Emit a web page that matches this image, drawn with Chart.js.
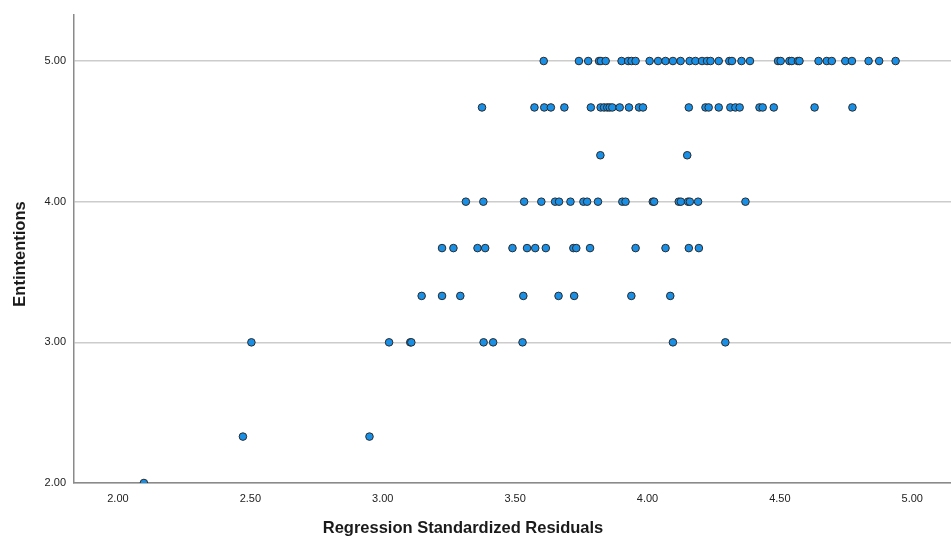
<!DOCTYPE html>
<html>
<head>
<meta charset="utf-8">
<script src="https://cdn.jsdelivr.net/npm/chart.js@4.4.1/dist/chart.umd.min.js"></script>
<style>
  html, body { margin: 0; padding: 0; background: #fff; overflow: hidden; }
  #wrap { width: 956px; height: 541px; }
</style>
</head>
<body>
<div id="wrap"><canvas id="scatter"></canvas></div>
<script>
// Entintentions levels (y) and the residuals found at each level (x)
let niveles = [2.00, 2.33, 3.00, 3.33, 3.67, 4.00, 4.33, 4.67, 5.00];

let res200 = [2.098];
let res233 = [2.472, 2.95];
let res300 = [2.504, 3.024, 3.104, 3.108, 3.381, 3.417, 3.528, 4.096, 4.294];
let res333 = [3.147, 3.224, 3.293, 3.531, 3.664, 3.723, 3.939, 4.086];
let res367 = [3.224, 3.267, 3.358, 3.387, 3.490, 3.545, 3.576, 3.616, 3.720, 3.731,
              3.783, 3.955, 4.068, 4.156, 4.194];
let res400 = [3.314, 3.380, 3.534, 3.599, 3.651, 3.666, 3.709, 3.758, 3.772, 3.813,
              3.905, 3.917, 4.020, 4.025, 4.118, 4.126, 4.153, 4.160, 4.191, 4.370];
let res433 = [3.822, 4.150];
let res467 = [3.375, 3.573, 3.610, 3.635, 3.686, 3.786, 3.823, 3.836, 3.848, 3.857,
              3.867, 3.895, 3.930, 3.968, 3.983, 4.156, 4.219, 4.231, 4.269, 4.313,
              4.332, 4.348, 4.423, 4.435, 4.477, 4.631, 4.774];
let res500 = [3.608, 3.741, 3.776, 3.817, 3.824, 3.842, 3.902, 3.927, 3.940, 3.955,
              4.008, 4.040, 4.068, 4.096, 4.125, 4.159, 4.181, 4.206, 4.225, 4.238,
              4.269, 4.309, 4.319, 4.355, 4.387, 4.493, 4.503, 4.536, 4.545, 4.568,
              4.574, 4.646, 4.677, 4.696, 4.747, 4.772, 4.835, 4.875, 4.937];

let ticksX = [2.00, 2.50, 3.00, 3.50, 4.00, 4.50, 5.00];
let ticksY = [2.00, 3.00, 4.00, 5.00];

let tituloX = 'Regression Standardized Residuals';
let tituloY = 'Entintentions';

let filas = [res200, res233, res300, res333, res367, res400, res433, res467, res500];
let puntos = [];
for (let i = 0; i < filas.length; i++) {
    for (let j = 0; j < filas[i].length; j++) {
        puntos.push({ x: filas[i][j], y: niveles[i] });
    }
}

let fuente = "'Liberation Sans', Arial, sans-serif";

// the axis titles in the original sit off the plot centre, so they are placed by hand
const titulos = {
    id: 'titulos',
    afterDraw(chart) {
        const c = chart.ctx;
        c.save();
        c.fillStyle = '#1a1a1a';
        c.font = 'bold 16.5px ' + fuente;
        c.textAlign = 'center';
        c.textBaseline = 'middle';
        c.fillText(tituloX, 463, 528);
        c.translate(20, 254);
        c.rotate(-Math.PI / 2);
        c.fillText(tituloY, 0, 0);
        c.restore();
    }
};

var ctx = document.getElementById('scatter').getContext('2d');
var grafico = new Chart(ctx, {
    type: 'scatter',
    data: {
        datasets: [{
            label: tituloY,
            data: puntos,
            backgroundColor: '#1a8fe6',
            borderColor: '#2b2b2b',
            borderWidth: 1,
            pointRadius: 3.8,
            pointHoverRadius: 3.8
        }]
    },
    options: {
        responsive: true,
        maintainAspectRatio: false,
        animation: false,
        events: [],
        layout: { padding: { top: 13, right: 0, left: 0, bottom: 0 } },
        plugins: {
            legend: { display: false },
            tooltip: { enabled: false }
        },
        scales: {
            x: {
                type: 'linear',
                min: 1.834,
                max: 5.147,
                afterBuildTicks: function(scale) {
                    scale.ticks = ticksX.map(function(v) { return { value: v }; });
                },
                afterFit: function(scale) { scale.height = 58; },
                grid: { display: false, drawTicks: false },
                border: { display: true, color: '#8a8a8a', width: 1.5 },
                ticks: {
                    padding: 9,
                    color: '#222',
                    font: { family: fuente, size: 11 },
                    maxRotation: 0,
                    callback: function(v) { return Number(v).toFixed(2); }
                }
            },
            y: {
                type: 'linear',
                min: 2,
                max: 5.33,
                afterBuildTicks: function(scale) {
                    scale.ticks = ticksY.map(function(v) { return { value: v }; });
                },
                afterFit: function(scale) { scale.width = 74; },
                grid: { color: '#cccccc', lineWidth: 1.5, drawTicks: false },
                border: { display: true, color: '#8a8a8a', width: 1.5 },
                ticks: {
                    padding: 8,
                    color: '#222',
                    font: { family: fuente, size: 11 },
                    callback: function(v) { return Number(v).toFixed(2); }
                }
            }
        }
    },
    plugins: [titulos]
});
</script>
</body>
</html>
